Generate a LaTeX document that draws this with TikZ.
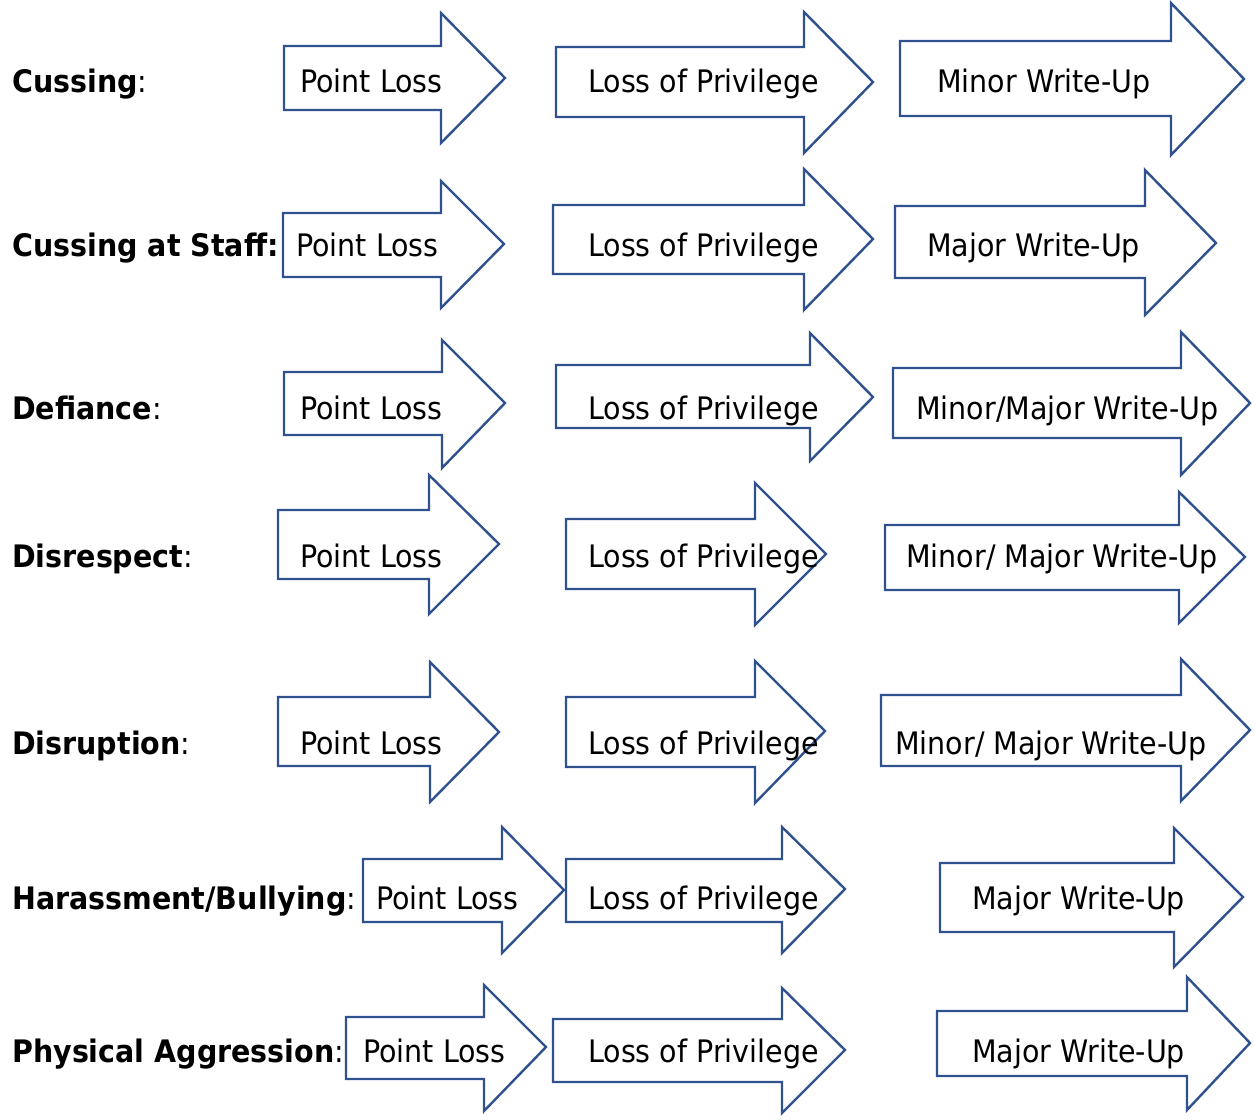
\documentclass[tikz,border=0pt]{standalone}
\usepackage{fontspec}
\setmainfont{DejaVu Sans}[FakeStretch=0.92]
\definecolor{arrowblue}{RGB}{47,82,143}

\begin{document}
\begin{tikzpicture}[x=1pt,y=-1pt,
    blockarrow/.style={draw=arrowblue,line width=2.4pt,fill=white,line join=miter},
    txt/.style={anchor=base west,inner sep=0pt,font=\fontsize{31}{37}\selectfont}]

  \useasboundingbox (0,0) rectangle (1255,1119);

  % block arrows: left, shaft end, body top, body bottom, head top, head bottom, tip
  \foreach \xa/\xs/\yt/\yb/\yu/\yd/\xt/\ym in {
      284/441/46/110/13/143/505/78, 556/804/47/117/12/153/873/82, 900/1171/41/116/3/155/1244/79,
      283/441/213/277/181/308/504/244, 553/804/205/274/169/310/873/239, 895/1145/206/278/170/315/1216/243,
      284/442/372/435/340/468/505/403, 556/810/365/428/333/461/873/397, 893/1181/368/438/332/475/1250/403,
      278/429/510/579/475/614/499/544, 566/755/519/589/483/625/826/554, 885/1179/525/590/492/623/1245/557,
      278/430/697/766/662/802/499/732, 566/755/697/767/661/803/825/731, 881/1181/695/766/659/801/1250/730,
      363/502/859/922/827/953/564/890, 566/782/859/922/827/953/845/889, 940/1174/863/932/828/967/1243/897,
      346/484/1017/1079/985/1111/546/1047, 553/782/1019/1082/988/1113/845/1050, 937/1187/1011/1076/977/1110/1250/1043} {
      \draw[blockarrow] (\xa,\yt) -- (\xs,\yt) -- (\xs,\yu) -- (\xt,\ym) -- (\xs,\yd) -- (\xs,\yb) -- (\xa,\yb) -- cycle;
    }

  % behaviours and their steps
  \foreach \lbl/\y/\px/\wu/\wx [count=\r] in {
      {\textbf{Cussing}:}/92/300/{Minor Write-Up}/937,
      {\textbf{Cussing at Staff:}}/256/296/{Major Write-Up}/927,
      {\textbf{Defiance}:}/419/300/{Minor/Major Write-Up}/916,
      {\textbf{Disrespect}:}/567/300/{Minor/ Major Write-Up}/906,
      {\textbf{Disruption}:}/754/300/{Minor/ Major Write-Up}/895,
      {\textbf{Harassment/Bullying}:}/909/376/{Major Write-Up}/972,
      {\textbf{Physical Aggression}:}/1062/363/{Major Write-Up}/972} {
      \node[txt] (lbl\r) at (12,\y) {\lbl};
      \node[txt] (pl\r) at (\px,\y) {Point Loss};
      \node[txt] (lop\r) at (588,\y) {Loss of Privilege};
      \node[txt] (wu\r) at (\wx,\y) {\wu};
    }
\end{tikzpicture}
\end{document}
